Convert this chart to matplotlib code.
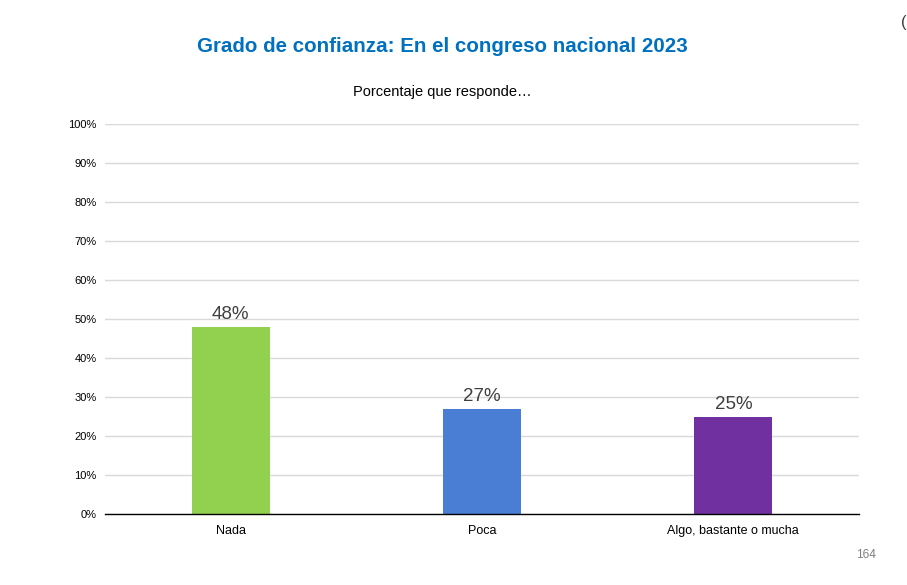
import matplotlib
matplotlib.use("Agg")
import matplotlib.pyplot as plt
from matplotlib.ticker import FuncFormatter, MultipleLocator

plt.rcParams['font.family'] = ['Liberation Sans', 'DejaVu Sans']

categories = ["Nada", "Poca", "Algo, bastante o mucha"]
values = [48, 27, 25]
colors = ["#92D050", "#4A7ED5", "#7030A0"]
title = "Grado de confianza: En el congreso nacional 2023"
subtitle = "Porcentaje que responde…"
page_number = "164"

fig = plt.figure(figsize=(9.07, 5.85), dpi=100)
ax = fig.add_axes([105/907, 1-514/585, (859-105)/907, (514-124)/585])

x = range(len(categories))
bars = ax.bar(x, values, width=0.31, color=colors, zorder=3)
for xi, v in zip(x, values):
    ax.text(xi, v + 0.9, f"{v}%", ha="center", va="bottom", fontsize=13.5, color="#404040")

ax.set_xlim(-0.5, len(categories) - 0.5)
ax.set_ylim(0, 100)
ax.yaxis.set_major_locator(MultipleLocator(10))
ax.yaxis.set_major_formatter(FuncFormatter(lambda v, p: f"{int(v)}%"))
ax.set_xticks(list(x))
ax.set_xticklabels(categories, fontsize=9)
ax.tick_params(axis='y', labelsize=8, length=0, pad=6)
ax.tick_params(axis='x', length=0, pad=8)
ax.grid(axis='y', color="#D9D9D9", linewidth=1, zorder=0)
for s in ["top", "right", "left"]:
    ax.spines[s].set_visible(False)
ax.spines["bottom"].set_color("#000000")
ax.spines["bottom"].set_linewidth(1)
ax.spines["bottom"].set_zorder(4)

fig.text(442/907, 1-46/585, title, ha="center", va="center", fontsize=14.8,
         fontweight="bold", color="#0070C0")
fig.text(442/907, 1-92/585, subtitle, ha="center", va="center", fontsize=10.5, color="#000000")
fig.text(866/907, 1-555/585, page_number, ha="center", va="center", fontsize=8.5, color="#7F7F7F")
fig.text(901/907, 1-22/585, "(", ha="left", va="center", fontsize=12, color="#404040")

fig.savefig("out.png", dpi=100)
